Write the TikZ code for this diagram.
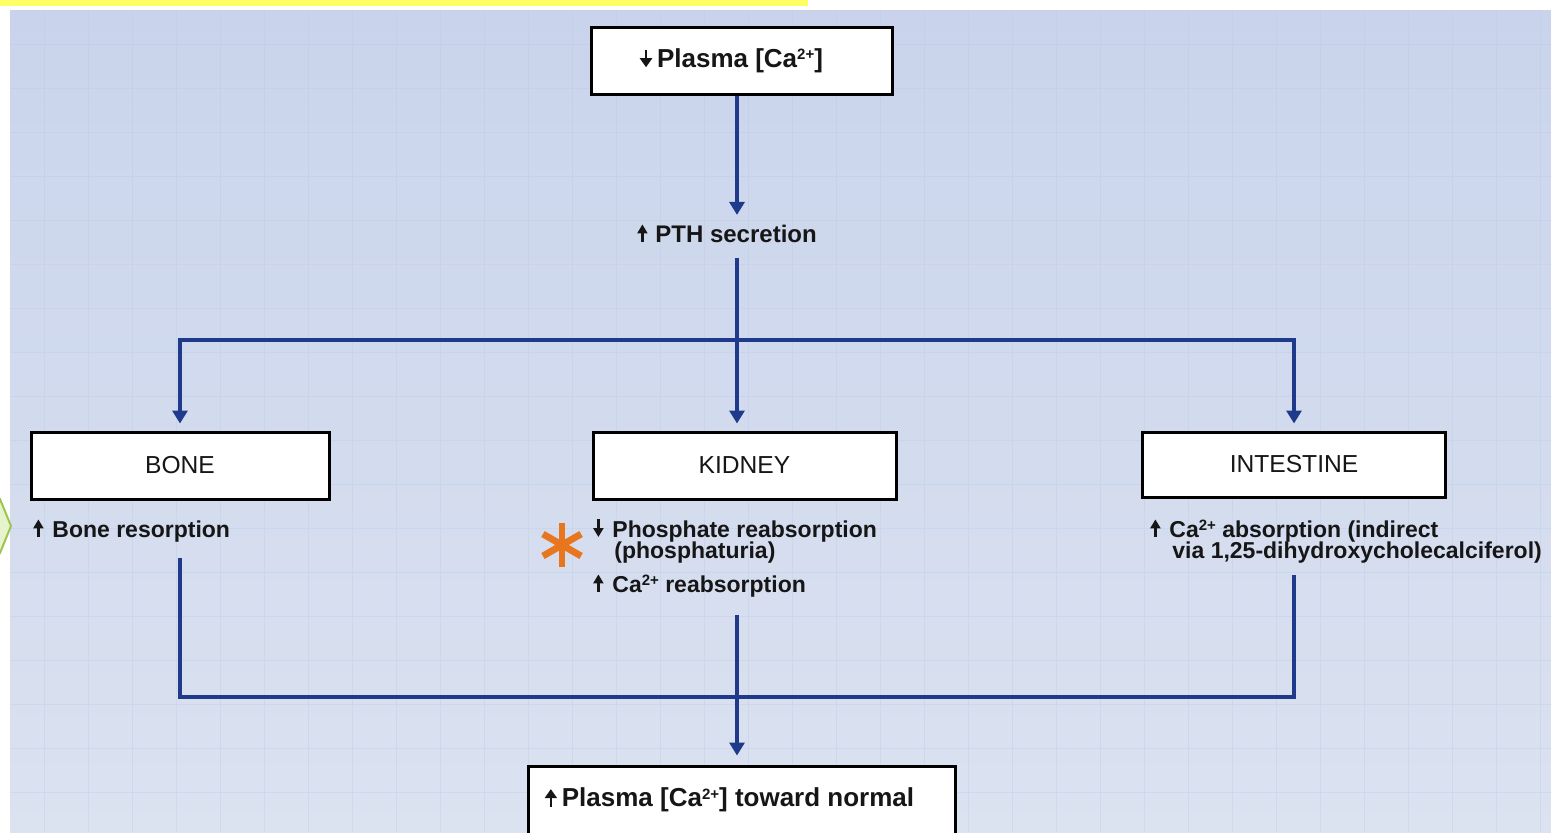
\documentclass[tikz,border=0pt]{standalone}
\usepackage{fontspec}
\setmainfont{Liberation Sans}
\usetikzlibrary{arrows.meta}
\definecolor{navy}{HTML}{1F3A8A}
\definecolor{txt}{HTML}{161616}
\definecolor{bgtop}{HTML}{C9D4EC}
\definecolor{bgbot}{HTML}{DBE2F0}
\definecolor{gridc}{HTML}{B9C6E2}
\definecolor{yellowbar}{HTML}{FFFF66}
\definecolor{chevfill}{HTML}{E6F3CC}
\definecolor{chevline}{HTML}{9CC64E}
\definecolor{astc}{HTML}{E8761E}
\newcommand\uparr[1][5pt]{\tikz[baseline=0pt]\draw[txt, line width=1.1pt, -{Triangle[width=#1,length=4.5pt]}] (0pt,0pt) -- (0pt,8.8pt);}
\newcommand\dnarr[1][5pt]{\tikz[baseline=0pt]\draw[txt, line width=1.1pt, -{Triangle[width=#1,length=4.5pt]}] (0pt,8.8pt) -- (0pt,0pt);}
\newcommand\sups[1]{\raisebox{0.55ex}{\fontsize{7.5}{8}\selectfont #1}}
\begin{document}
\begin{tikzpicture}[x=0.5pt,y=-0.5pt,
  box/.style={draw=black, line width=1.5pt, fill=white, inner sep=0pt, text=txt},
  boxlbl/.style={font=\fontsize{12.3}{13}\selectfont},
  plasma/.style={font=\fontsize{13}{13}\selectfont\bfseries},
  conn/.style={draw=navy, line width=1.8pt},
  arr/.style={conn, -{Triangle[width=7.5pt,length=6.5pt]}},
  lbl/.style={font=\fontsize{11.5}{11.5}\selectfont\bfseries, inner sep=0pt, text=txt, anchor=base west},
  ]
\useasboundingbox (0,0) rectangle (1551,832);
% background
\fill[top color=bgtop, bottom color=bgbot] (10,10) rectangle (1551,832);
\begin{scope}
\clip (10,10) rectangle (1551,832);
\draw[gridc, line width=0.4pt, opacity=0.3, step=22pt] (10,10) grid (1551,832);
\end{scope}
\fill[yellowbar] (0,0) rectangle (808,6);
\begin{scope}
\clip (0,0) rectangle (1551,832);
\draw[fill=chevfill, draw=chevline, line width=1pt] (-20,499) -- (0,499) -- (11,526) -- (0,553) -- (-20,553) -- cycle;
\end{scope}

\coordinate (col) at (737,0);

% boxes
\node[box, plasma, minimum width=150.5pt, minimum height=33.5pt] (top) at (741.5,60.5) {\dnarr[6pt]\hspace{2.5pt}Plasma [Ca\sups{2+}]\rule{10pt}{0pt}};
\node[box, boxlbl, minimum width=149pt, minimum height=33.5pt] (bone) at (180,465.5) {BONE};
\node[box, boxlbl, minimum width=151.5pt, minimum height=33.5pt] (kidney) at (744.5,465.5) {KIDNEY};
\node[box, boxlbl, minimum width=151.5pt, minimum height=32.5pt] (intestine) at (1294,464.5) {INTESTINE};
\node[box, plasma, minimum width=213.5pt, minimum height=34pt] (bot) at (741.5,800) {\uparr[6pt]\hspace{2.5pt}Plasma [Ca\sups{2+}] toward normal\rule{12pt}{0pt}};

% texts
\node[lbl, font=\fontsize{12}{12}\selectfont\bfseries] (pth) at (637,242) {\uparr\hspace{4pt}PTH secretion};
\node[lbl] (bres) at (33,537) {\uparr\hspace{4.5pt}Bone resorption};
\node[lbl] (kid1a) at (593,537) {\dnarr\hspace{4.5pt}Phosphate reabsorption};
\node[lbl] (kid1b) at (614,558) {(phosphaturia)};
\node[lbl] (kid2) at (593,592) {\uparr\hspace{4.5pt}Ca\sups{2+} reabsorption};
\node[lbl] (int1) at (1150,537) {\uparr\hspace{4.5pt}Ca\sups{2+} absorption (indirect};
\node[lbl] (int2) at (1172,558) {via 1,25-dihydroxycholecalciferol)};

% asterisk
\coordinate (ast) at (562,545);
\foreach \a in {90,30,-30}{
  \draw[astc, line width=3.4pt] (ast) ++(\a:22) -- ++(\a+180:44);
}

% connectors
\coordinate (br) at (737,340);
\coordinate (jn) at (737,697);
\draw[arr, shorten >=4pt] (top.south -| col) -- (pth.north -| col);
\draw[conn, shorten <=7pt] (pth.south -| col) -- (br);
\draw[arr, shorten >=3.5pt] (br) -- (kidney.north -| col);
\draw[arr, shorten >=3.5pt] (br) -| (bone.north);
\draw[arr, shorten >=3.5pt] (br) -| (intestine.north);
\draw[conn, shorten <=8pt, shorten >=6pt] (bres.south -| bone.south) |- (jn) -| (int2.south -| intestine.south);
\draw[arr, shorten <=9pt, shorten >=4.5pt] (kid2.south -| col) -- (bot.north -| col);
\end{tikzpicture}
\end{document}
